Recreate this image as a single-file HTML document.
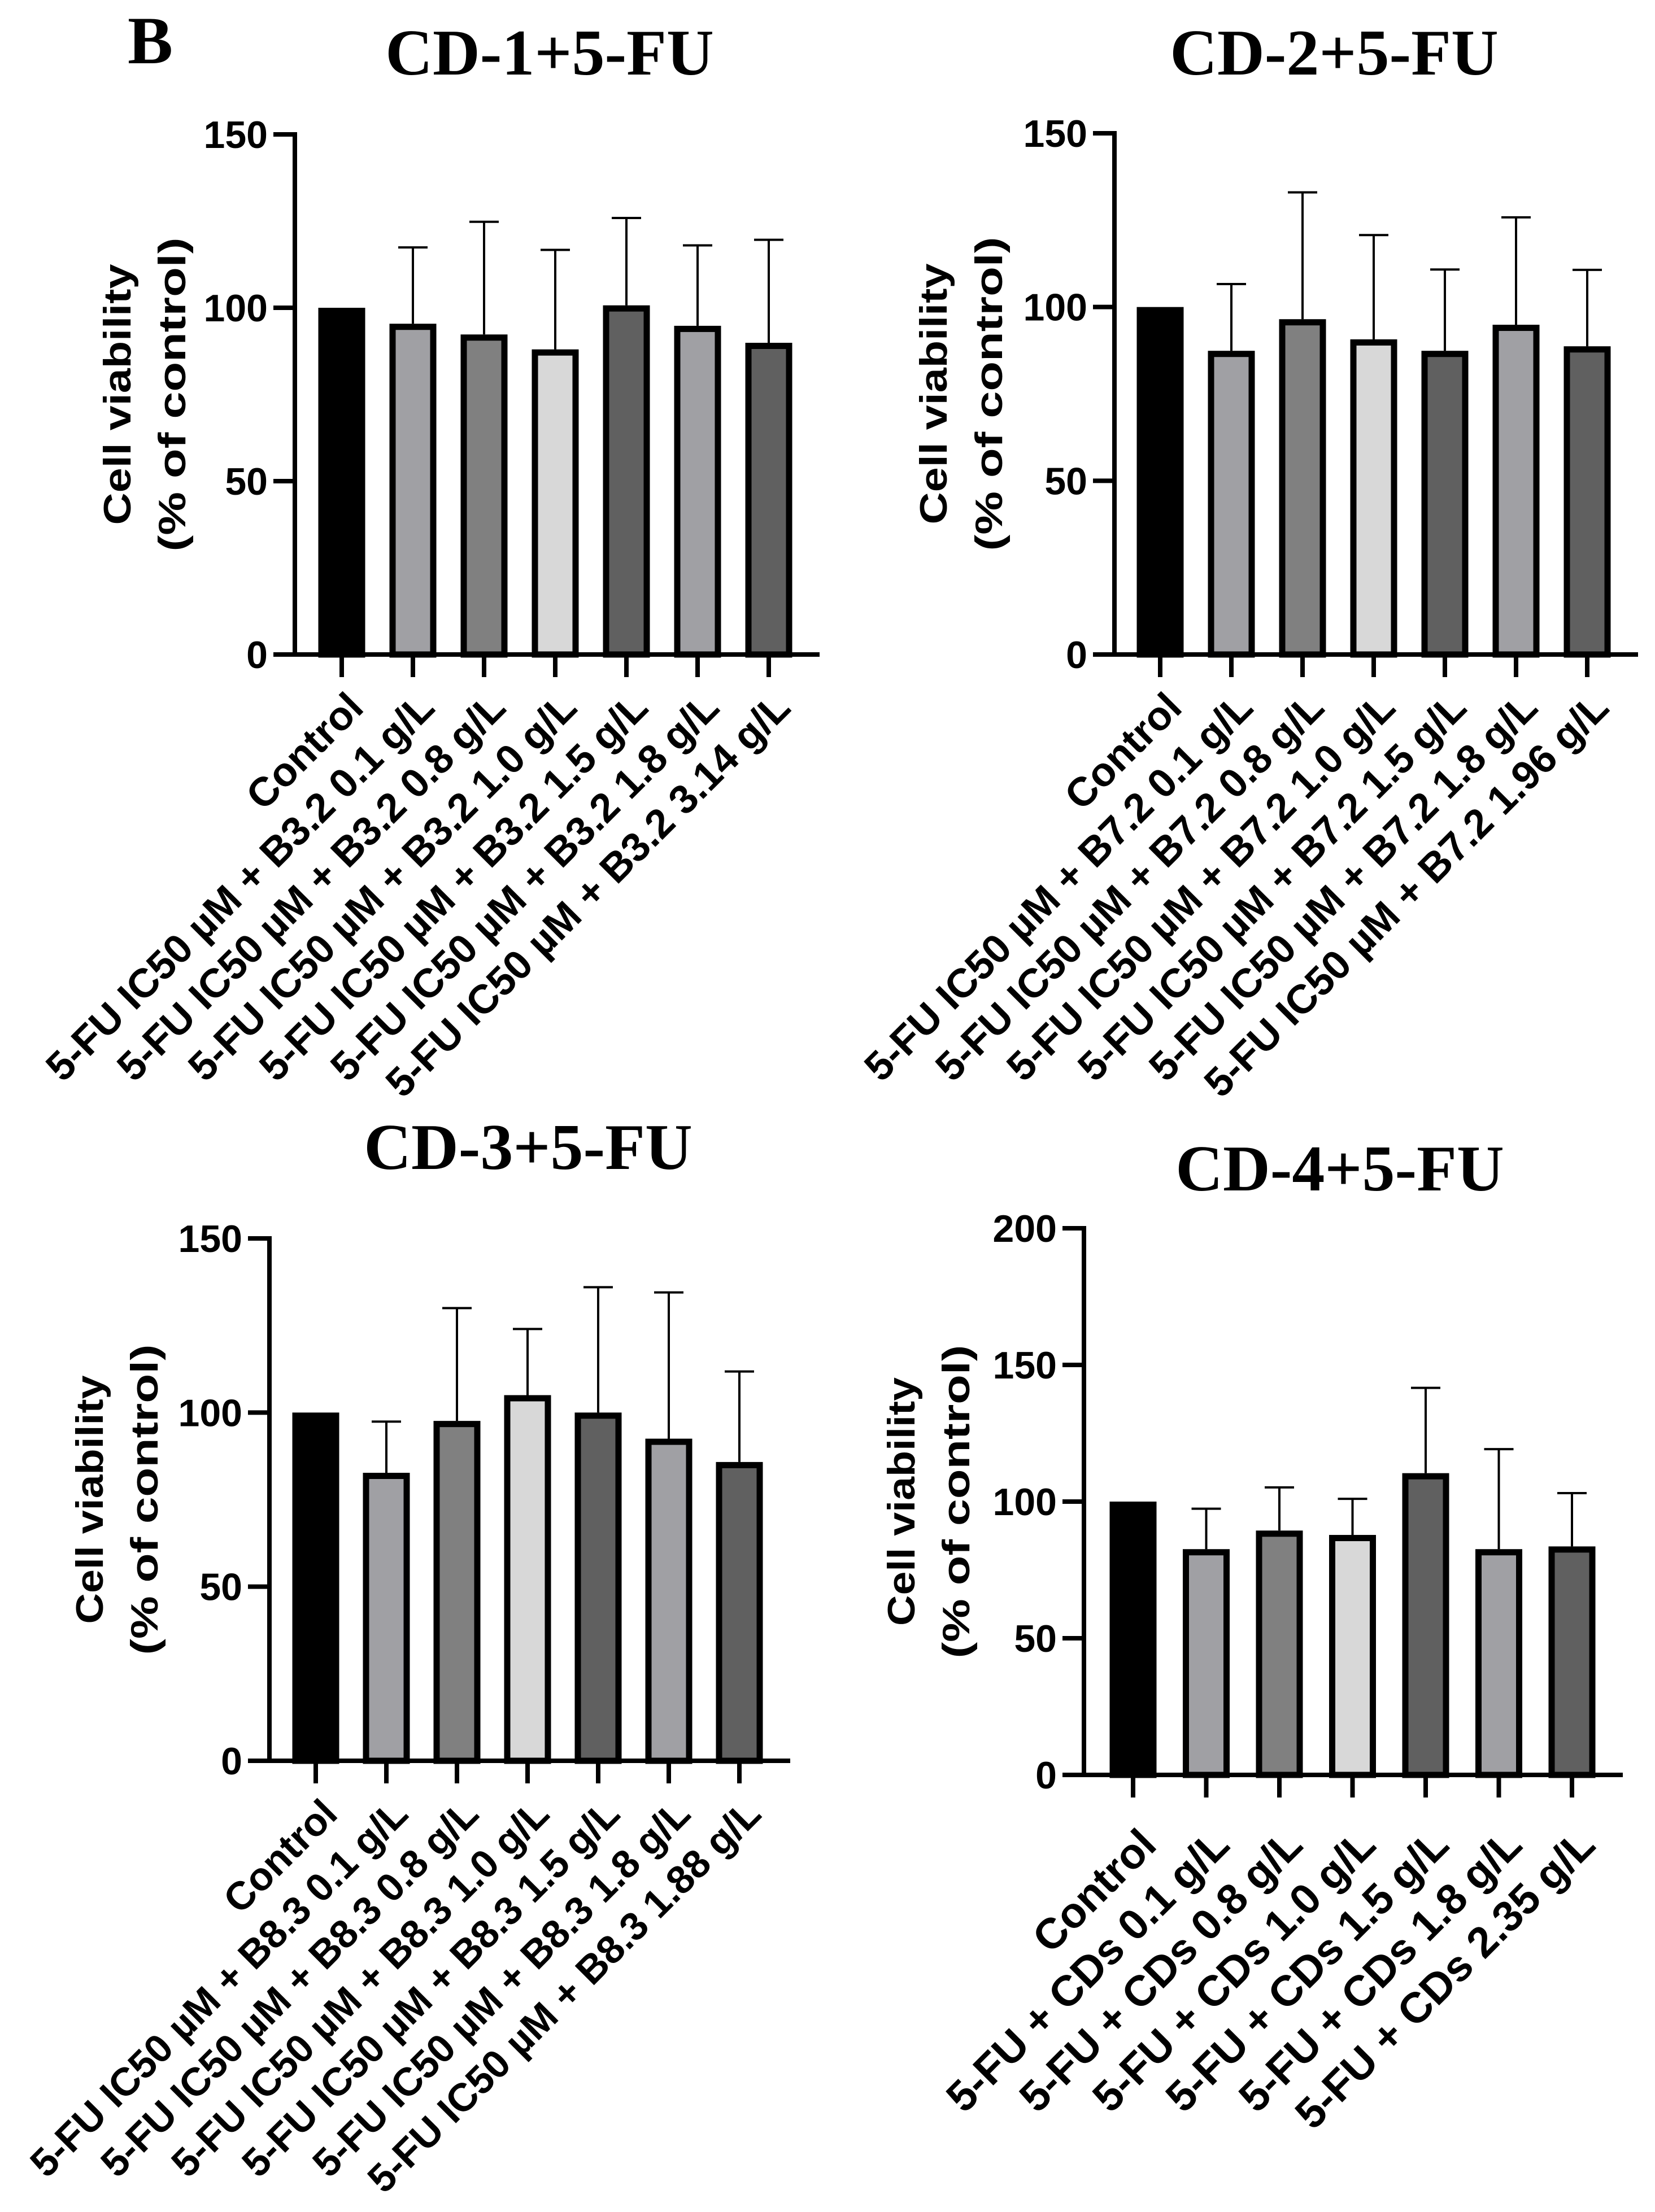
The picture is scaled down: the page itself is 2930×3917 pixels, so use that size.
<!DOCTYPE html>
<html><head><meta charset="utf-8"><style>
html,body{margin:0;padding:0;background:#fff;}
svg{display:block;}
</style></head><body>
<svg id="fig" xmlns="http://www.w3.org/2000/svg" width="2930" height="3917" viewBox="0 0 2930 3917">
<rect width="2930" height="3917" fill="#fff"/>
<text x="226" y="112" font-family="Liberation Serif, serif" font-weight="bold" font-size="120">B</text>
</svg>
<script>
const fills = ["#000000","#a0a0a4","#808080","#d8d8d8","#606060","#a0a0a4","#606060"];
const cats1 = ["Control","5-FU IC50 µM + B3.2 0.1 g/L","5-FU IC50 µM + B3.2 0.8 g/L","5-FU IC50 µM + B3.2 1.0 g/L","5-FU IC50 µM + B3.2 1.5 g/L","5-FU IC50 µM + B3.2 1.8 g/L","5-FU IC50 µM + B3.2 3.14 g/L"];
const vals1 = [100, 95.4, 92.3, 88, 100.7, 94.8, 89.9];
const errTop1 = [null, 117.4, 124.8, 116.7, 125.9, 118, 119.6];
const cats2 = ["Control","5-FU IC50 µM + B7.2 0.1 g/L","5-FU IC50 µM + B7.2 0.8 g/L","5-FU IC50 µM + B7.2 1.0 g/L","5-FU IC50 µM + B7.2 1.5 g/L","5-FU IC50 µM + B7.2 1.8 g/L","5-FU IC50 µM + B7.2 1.96 g/L"];
const vals2 = [100, 87.4, 96.5, 90.7, 87.4, 94.9, 88.7];
const errTop2 = [null, 106.6, 133, 120.7, 110.8, 125.8, 110.7];
const cats3 = ["Control","5-FU IC50 µM + B8.3 0.1 g/L","5-FU IC50 µM + B8.3 0.8 g/L","5-FU IC50 µM + B8.3 1.0 g/L","5-FU IC50 µM + B8.3 1.5 g/L","5-FU IC50 µM + B8.3 1.8 g/L","5-FU IC50 µM + B8.3 1.88 g/L"];
const vals3 = [100, 82.7, 97.6, 105, 100, 92.5, 85.8];
const errTop3 = [null, 97.4, 130, 124, 136, 134.5, 111.8];
const cats4 = ["Control","5-FU + CDs 0.1 g/L","5-FU + CDs 0.8 g/L","5-FU + CDs 1.0 g/L","5-FU + CDs 1.5 g/L","5-FU + CDs 1.8 g/L","5-FU + CDs 2.35 g/L"];
const vals4 = [100, 82.6, 89.4, 87.8, 110.4, 82.6, 83.6];
const errTop4 = [null, 97.4, 105.2, 101, 141.6, 119.2, 103.1];
const ticks123 = [0, 50, 100, 150];
const ticks4 = [0, 50, 100, 150, 200];

const NS = "http://www.w3.org/2000/svg";
const svg = document.getElementById("fig");
function mk(tag, attrs, parent) {
  const e = document.createElementNS(NS, tag);
  for (const k in attrs) e.setAttribute(k, attrs[k]);
  (parent || svg).appendChild(e);
  return e;
}
const SANS = "Liberation Sans, Arial, sans-serif";

function drawChart(o) {
  const g = mk("g", {});
  
  
  const y = v => o.y0 - (v - 0) * (o.y0 - o.yTop) / (o.yMax);
  const x = i => o.x0 + i * o.step;
  const t = mk("text", {x: o.titleX, y: o.titleY, "text-anchor": "middle", "font-family": "Liberation Serif, serif", "font-weight": "bold", "font-size": 116}, g);
  t.textContent = o.title;
  
  
  o.vals.forEach((v, i) => {
    const cx = x(i);
    const r = mk("rect", {x: cx - 36, y: y(v) + 5.5, width: 72, height: y(0) - y(v) - 5.5, fill: o.fills[i], stroke: "#000", "stroke-width": 11}, g);
    
    
    if (o.errs[i] != null) {
      const e = mk("path", {d: `M${cx},${y(v)} V${y(o.errs[i])} M${cx - 26},${y(o.errs[i])} H${cx + 26}`, stroke: "#000", "stroke-width": 4, fill: "none"}, g);
      
      
    }
  });
  const xEnd = x(o.vals.length - 1) + 90;
  const ax = mk("path", {d: `M${o.ax},${y(o.yMax) - 4} V${y(0)} M${o.ax - 38},${y(0)} H${xEnd}`, stroke: "#000", "stroke-width": 8, fill: "none"}, g);
  
  
  o.ticks.forEach(tv => {
    const tk = mk("path", {d: `M${o.ax - 38},${y(tv)} H${o.ax}`, stroke: "#000", "stroke-width": 8}, g);
    
    
    const tl = mk("text", {x: o.ax - 48, y: y(tv) + 24, "text-anchor": "end", "font-family": SANS, "font-weight": "bold", "font-size": 68}, g);
    tl.textContent = tv;
    
    
  });
  o.cats.forEach((c, i) => {
    const cx = x(i);
    const tk = mk("path", {d: `M${cx},${y(0)} V${y(0) + 40}`, stroke: "#000", "stroke-width": 8}, g);
    
    
    const ax_ = cx + o.lblDx, ay_ = y(0) + o.lblDy;
    const tl = mk("text", {x: ax_, y: ay_, "text-anchor": "end", transform: `rotate(-45 ${ax_} ${ay_})`, "font-family": SANS, "font-weight": "bold", "font-size": o.lblSize}, g);
    tl.textContent = c;
    
    
  });
  const midY = (y(0) + y(o.yMax)) / 2;
  [["Cell viability", o.yt1, o.len1], ["(% of control)", o.yt2, o.len2]].forEach(([s, cx, len]) => {
    const bx = cx + 24;
    const tt = mk("text", {x: bx, y: midY, "text-anchor": "middle", transform: `rotate(-90 ${bx} ${midY})`, "font-family": SANS, "font-weight": "bold", "font-size": 68, textLength: len, lengthAdjust: "spacingAndGlyphs"}, g);
    tt.textContent = s;
    
    
  });
}

drawChart({name: "chart-cd1", title: "CD-1+5-FU", titleX: 973, titleY: 132, cats: cats1, vals: vals1, errs: errTop1, fills: fills,
  ax: 522, y0: 1159, yTop: 238, yMax: 150, ticks: ticks123, x0: 605, step: 126, lblDx: 42, lblDy: 98, lblSize: 72,
  yt1: 207, yt2: 304, len1: 462, len2: 556});
drawChart({name: "chart-cd2", title: "CD-2+5-FU", titleX: 2362, titleY: 132, cats: cats2, vals: vals2, errs: errTop2, fills: fills,
  ax: 1973, y0: 1159, yTop: 236, yMax: 150, ticks: ticks123, x0: 2054, step: 126, lblDx: 42, lblDy: 98, lblSize: 72,
  yt1: 1652, yt2: 1750, len1: 462, len2: 556});
drawChart({name: "chart-cd3", title: "CD-3+5-FU", titleX: 935, titleY: 2070, cats: cats3, vals: vals3, errs: errTop3, fills: fills,
  ax: 477, y0: 3118, yTop: 2193, yMax: 150, ticks: ticks123, x0: 559, step: 125, lblDx: 42, lblDy: 98, lblSize: 70,
  yt1: 158, yt2: 255, len1: 440, len2: 550});
drawChart({name: "chart-cd4", title: "CD-4+5-FU", titleX: 2372, titleY: 2108, cats: cats4, vals: vals4, errs: errTop4, fills: fills,
  ax: 1919, y0: 3143, yTop: 2175, yMax: 200, ticks: ticks4, x0: 2006, step: 129.5, lblDx: 45, lblDy: 128, lblSize: 76,
  yt1: 1595, yt2: 1692, len1: 440, len2: 555});
</script>
</body></html>
